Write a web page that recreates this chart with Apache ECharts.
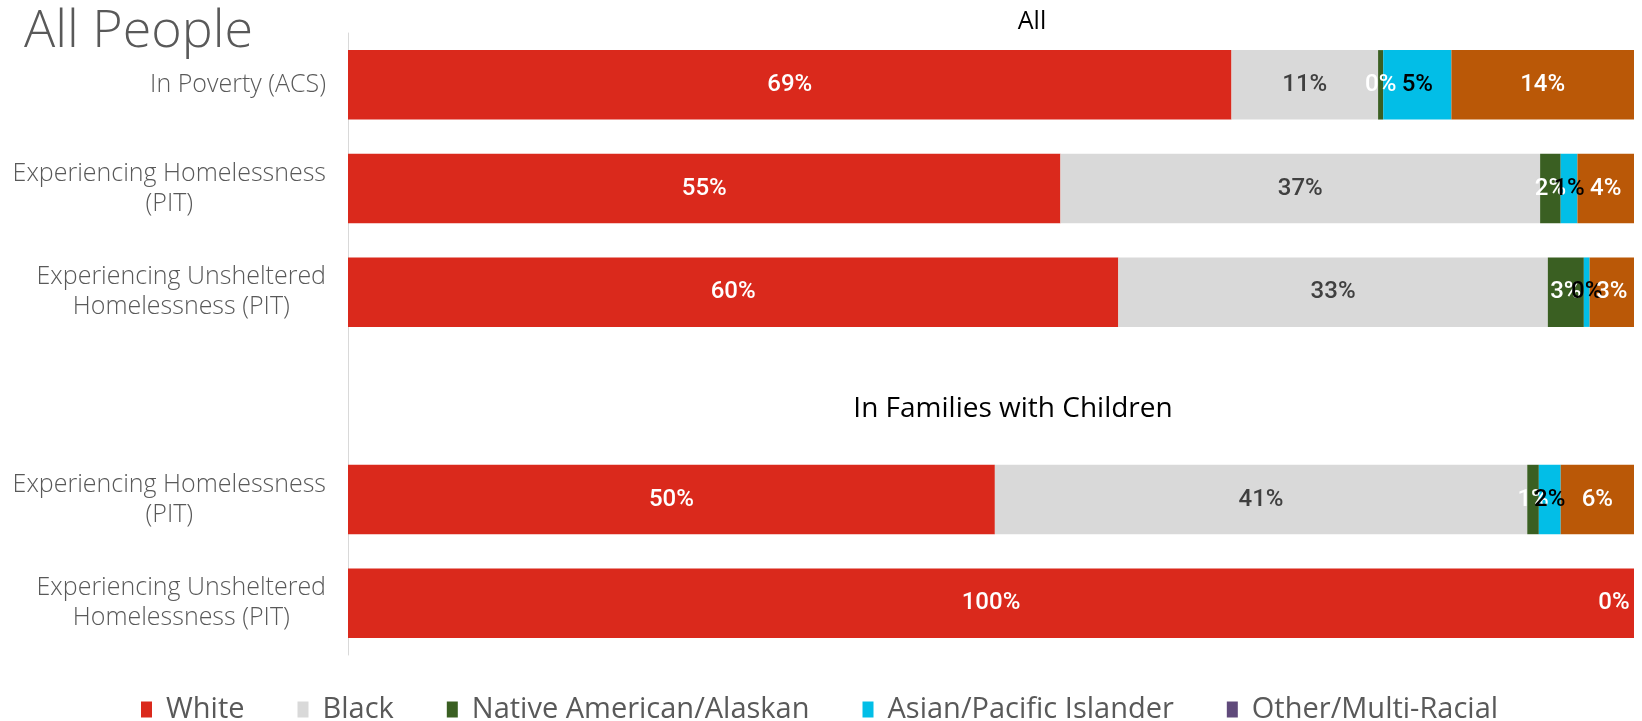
<!DOCTYPE html>
<html><head><meta charset="utf-8">
<script src="https://cdn.jsdelivr.net/npm/echarts@6/dist/echarts.min.js"></script>
<style>html,body{margin:0;padding:0;background:#fff}#c{width:1642px;height:721px}</style>
</head><body><div id="c"></div>
<script>
const categories = ['In Poverty (ACS)', 'Experiencing Homelessness\n(PIT)', 'Experiencing Unsheltered\nHomelessness (PIT)', '', 'Experiencing Homelessness\n(PIT)', 'Experiencing Unsheltered\nHomelessness (PIT)'];
const seriesNames = ['White', 'Black', 'Native American/Alaskan', 'Asian/Pacific Islander', 'Other/Multi-Racial'];
const white  = [68.7, 55.4, 59.9, null, 50.3, 100];
const black  = [11.4, 37.3, 33.4, null, 41.4, null];
const native = [0.4, 1.6, 2.8, null, 0.9, null];
const asian  = [5.3, 1.3, 0.45, null, 1.7, null];
const other  = [14.2, 4.4, 3.45, null, 5.7, 0];
const mainTitle = 'All People';
const sectionTitles = ['All', 'In Families with Children'];

const values = [white, black, native, asian, other];
const barColors = ['#DA291C', '#D9D9D9', '#3A5F22', '#02BEE7', '#BA5807'];
const legendColors = ['#DA291C', '#D9D9D9', '#3A5F22', '#02BEE7', '#604A7B'];
const labelColors = ['#FFFFFF', '#404040', '#FFFFFF', '#000000', '#FFFFFF'];

const chart = echarts.init(document.getElementById('c'));
const series = seriesNames.map((name, i) => ({
  name, type: 'bar', stack: 'total', barCategoryGap: '33%',
  itemStyle: { color: barColors[i] },
  label: {
    show: true, position: 'inside', color: labelColors[i],
    fontFamily: 'Roboto', fontSize: 24, fontWeight: 500,
    formatter: p => (p.value == null ? '' : Math.round(p.value) + '%')
  },
  data: values[i].map((v, j) => (i === 4 && j === 5) ? { value: v, label: { offset: [-20, 0] } } : v)
}));

chart.setOption({
  animation: false,
  title: [
    { text: mainTitle, left: 19, top: 1, textStyle: { fontFamily: 'Open Sans', fontWeight: 300, fontSize: 52, color: '#595959' } },
    { text: sectionTitles[0], left: 1027, top: 4, textAlign: 'center', textStyle: { fontFamily: 'Open Sans', fontWeight: 400, fontSize: 25, color: '#000' } },
    { text: sectionTitles[1], left: 1008, top: 390, textAlign: 'center', textStyle: { fontFamily: 'Open Sans', fontWeight: 400, fontSize: 28, color: '#000' } }
  ],
  legend: {
    top: 690, left: 136, icon: 'rect', itemWidth: 11, itemHeight: 16, itemGap: 53,
    textStyle: { fontFamily: 'Open Sans', fontSize: 29, color: '#595959', padding: [0, 0, 0, 9] },
    data: seriesNames.map((n, i) => ({ name: n, itemStyle: { color: legendColors[i] } }))
  },
  grid: { left: 348, right: 8, top: 33, bottom: 66 },
  xAxis: { type: 'value', min: 0, max: 100, show: false },
  yAxis: {
    type: 'category', inverse: true, data: categories,
    axisLine: { show: true, lineStyle: { color: '#D9D9D9', width: 1 } },
    axisTick: { show: false },
    axisLabel: {
      margin: 22,
      formatter: v => v.split('\n').map(l => '{c|' + l + '}').join('\n'),
      rich: { c: { align: 'center', fontFamily: 'Open Sans', fontWeight: 300, fontSize: 25, lineHeight: 30, color: '#595959' } }
    }
  },
  series
});
</script></body></html>
